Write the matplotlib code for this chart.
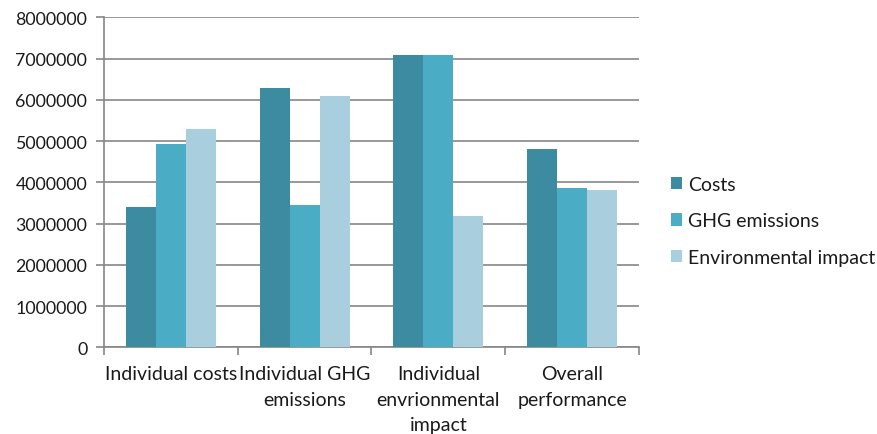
import numpy as np
import matplotlib.pyplot as plt

categories = ['Individual costs', 'Individual GHG\nemissions',
              'Individual\nenvrionmental\nimpact', 'Overall\nperformance']
series = ['Costs', 'GHG emissions', 'Environmental impact']
costs = [3410000, 6290000, 7090000, 4810000]
ghg = [4930000, 3450000, 7090000, 3860000]
env = [5290000, 6090000, 3180000, 3810000]
yticks = [0, 1000000, 2000000, 3000000, 4000000, 5000000, 6000000, 7000000, 8000000]

colors = ['#3D8BA1', '#4BACC6', '#A9CEDD']
grid_c = '#868686'
text_c = '#1a1a1a'

plt.rcParams['font.family'] = ['Lato', 'DejaVu Sans']
plt.rcParams['font.size'] = 14

fig = plt.figure(figsize=(8.78, 4.35), dpi=100)
ax = fig.add_axes([104 / 878, 1 - 348.3 / 435, 535 / 878, 330 / 435])

x = np.arange(len(categories))
w = 0.224
for i, (vals, name) in enumerate(zip([costs, ghg, env], series)):
    ax.bar(x + (i - 1) * w, vals, w, color=colors[i], label=name, zorder=3)

ax.set_xlim(-0.5, 3.5)
ax.set_ylim(0, 8000000)
ax.set_yticks(yticks)
ax.set_yticklabels([str(v) for v in yticks], fontsize=12.8)
ax.yaxis.grid(True, color=grid_c, linewidth=1.2, zorder=0)

ax.set_xticks(x)
ax.set_xticklabels(categories, linespacing=1.6, va='top')
ax.set_xticks(np.arange(-0.5, 4, 1), minor=True)
ax.tick_params(axis='x', which='major', length=0, pad=13)
ax.tick_params(axis='x', which='minor', length=6, width=1.2)
ax.tick_params(axis='y', length=6, width=1.2, pad=6)
ax.tick_params(axis='both', which='both', color=grid_c, labelcolor=text_c)

for s in ['top', 'right']:
    ax.spines[s].set_visible(False)
for s in ['left', 'bottom']:
    ax.spines[s].set_color(grid_c)
    ax.spines[s].set_linewidth(1.2)

leg = fig.legend(loc='center left', bbox_to_anchor=(0.764, 0.49), frameon=False,
                 handlelength=0.58, handleheight=0.58, handletextpad=0.3,
                 labelspacing=1.0, borderpad=0, borderaxespad=0)
for t in leg.get_texts():
    t.set_color(text_c)

fig.savefig('out.png', dpi=100)
